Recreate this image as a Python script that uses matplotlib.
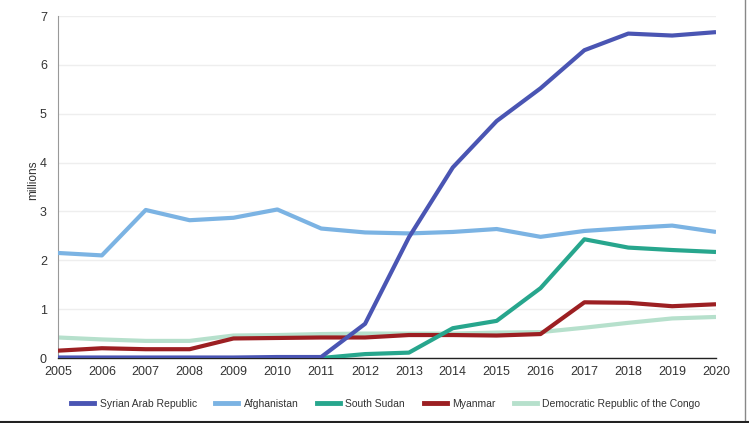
import matplotlib
matplotlib.use("Agg")
import matplotlib.pyplot as plt
from matplotlib.lines import Line2D

years = list(range(2005, 2021))

syria = [0.01, 0.01, 0.01, 0.01, 0.01, 0.02, 0.02, 0.70, 2.47, 3.90, 4.85, 5.52, 6.30, 6.64, 6.60, 6.67]
afghanistan = [2.15, 2.10, 3.03, 2.82, 2.87, 3.04, 2.65, 2.57, 2.55, 2.58, 2.64, 2.48, 2.60, 2.66, 2.71, 2.58]
south_sudan = [None, None, None, None, None, None, 0.0, 0.08, 0.11, 0.61, 0.76, 1.43, 2.43, 2.26, 2.21, 2.17]
myanmar = [0.15, 0.20, 0.18, 0.18, 0.40, 0.41, 0.42, 0.42, 0.47, 0.47, 0.46, 0.49, 1.14, 1.13, 1.06, 1.10]
drc = [0.42, 0.38, 0.35, 0.35, 0.46, 0.47, 0.49, 0.50, 0.50, 0.50, 0.52, 0.53, 0.62, 0.72, 0.81, 0.84]

names = ["Syrian Arab Republic", "Afghanistan", "South Sudan", "Myanmar",
         "Democratic Republic of the Congo"]
colors = ["#4a55b3", "#7bb3e3", "#27a68d", "#9c1f22", "#b6e0cc"]

plt.rcParams["font.family"] = ["Liberation Sans", "DejaVu Sans"]

fig = plt.figure(figsize=(7.49, 4.23), dpi=100)
ax = fig.add_axes([58 / 749, 1 - 358 / 423, (716 - 58) / 749, (358 - 16) / 423])

series = [syria, afghanistan, south_sudan, myanmar, drc]
# draw back to front so Syria sits on top like the original
for vals, col, z in zip(series, colors, [6, 5, 4, 3, 2]):
    xs = [y for y, v in zip(years, vals) if v is not None]
    ys = [v for v in vals if v is not None]
    ax.plot(xs, ys, color=col, lw=3, solid_capstyle="butt", zorder=z)

ax.set_xlim(2005, 2020)
ax.set_ylim(0, 7)
ax.set_xticks(years)
ax.set_yticks(range(0, 8))
ax.tick_params(axis="both", length=0, labelsize=9, colors="#333333")
ax.tick_params(axis="x", pad=6)
ax.tick_params(axis="y", pad=8)
ax.grid(axis="y", color="#eeeeee", lw=1)
ax.set_axisbelow(True)
for s in ["top", "right"]:
    ax.spines[s].set_visible(False)
ax.spines["left"].set_color("#999999")
ax.spines["bottom"].set_color("#222222")
ax.spines["bottom"].set_linewidth(1)
ax.set_ylabel("millions", fontsize=8.5, color="#333333")
ax.yaxis.set_label_coords(-0.028, 0.52)

handles = [Line2D([0], [0], color=c, lw=3.5) for c in colors]
fig.legend(handles, names, loc="center", bbox_to_anchor=(0.515, 1 - 404 / 423),
           ncol=5, frameon=False, fontsize=7.5, handlelength=2.2, columnspacing=1.8,
           handletextpad=0.5, labelcolor="#333333")

# thin frame on right and bottom edges of the picture
fig.add_artist(Line2D([745 / 749, 745 / 749], [0, 1], color="#888888", lw=1))
fig.add_artist(Line2D([0, 1], [1 / 423, 1 / 423], color="#222222", lw=1.5))

fig.savefig("out.png", dpi=100)
